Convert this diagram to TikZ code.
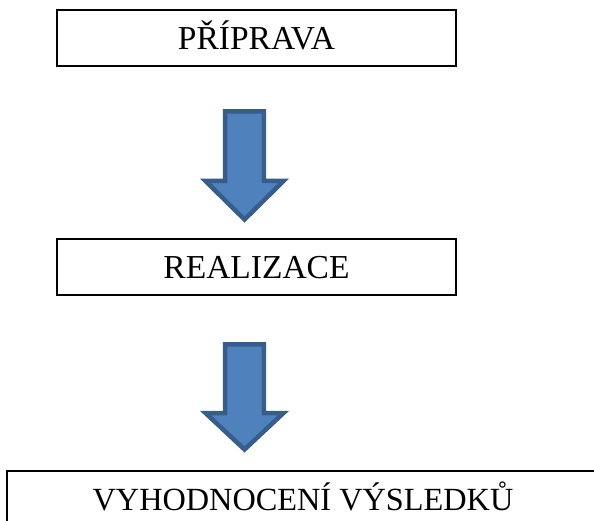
\documentclass[tikz,border=0pt]{standalone}
\usepackage{fontspec}
\setmainfont{Liberation Serif}
\definecolor{arrowfill}{HTML}{4F81BD}
\definecolor{arrowline}{HTML}{385D8A}
\tikzset{
  stagebox/.style={draw=black, line width=1.2pt, fill=white, inner sep=0pt,
    text height=23pt, text depth=0pt, minimum height=56pt,
    font=\fontsize{33.5}{40}\selectfont},
  blockarrow/.style={fill=arrowfill, draw=arrowline, line width=4.5pt, line join=miter}
}
\newcommand\dnarrow[4]{% x, top, head, tip
  \path[blockarrow] (#1-19.3,#2) -- (#1+19.3,#2) -- (#1+19.3,#3) -- (#1+39,#3)
    -- (#1,#4) -- (#1-39,#3) -- (#1-19.3,#3) -- cycle;}
\begin{document}
\begin{tikzpicture}[x=1pt,y=-1pt]
\useasboundingbox (0,0) rectangle (594,521);
\begin{scope}
\clip (0,0) rectangle (594,521);
\node[stagebox, minimum width=399pt] (prep) at (256.5,38) {PŘÍPRAVA};
\node[stagebox, minimum width=399pt] (real) at (256.5,267) {REALIZACE};
\node[stagebox, minimum width=592pt, text height=22pt, font=\fontsize{32.3}{38}\selectfont] (eval) at (303,499) {VYHODNOCENÍ VÝSLEDKŮ};
\dnarrow{244.5}{111.3}{181}{219.5}
\dnarrow{244.5}{344.3}{413}{449.5}
\end{scope}
\end{tikzpicture}
\end{document}
